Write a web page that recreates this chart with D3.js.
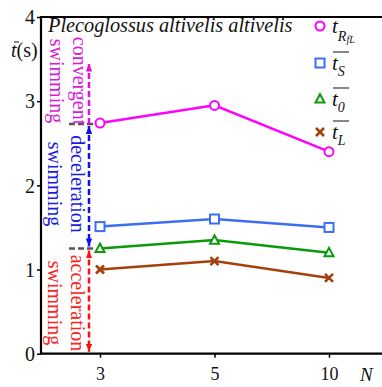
<!DOCTYPE html>
<html>
<head>
<meta charset="utf-8">
<script src="https://cdn.jsdelivr.net/npm/d3@7"></script>
<style>
  body { margin: 0; background: #fff; }
  svg { display: block; }
  svg text { font-family: 'Liberation Serif', 'Times New Roman', Times, 'DejaVu Serif', serif !important; }
</style>
</head>
<body>
<div id="chart"></div>
<script>
// data
const categories = ["3", "5", "10"];
const tRfL = [2.74, 2.95, 2.40];
const tS = [1.51, 1.60, 1.50];
const t0 = [1.25, 1.35, 1.20];
const tL = [1.00, 1.10, 0.90];
const yTicks = [0, 1, 2, 3, 4];
const levels = [2.73, 1.25]; // phase boundaries (gray dashes)
const phaseWords = [["convergent", "swimming"], ["deceleration", "swimming"], ["acceleration", "swimming"]];
const phaseRange = [[2.73, 3.47], [2.73, 1.25], [1.25, 0]];

const width = 382, height = 387;
const margin = {left: 41, top: 17, bottom: 33};

const svg = d3.select("#chart").append("svg")
    .attr("width", width)
    .attr("height", height);

const x = d3.scalePoint().domain(categories).range([100, 329]);
const y = d3.scaleLinear().domain([0, 4]).range([height - margin.bottom - 0.3, margin.top]);

// arrow heads
const defs = svg.append("defs");
const arrowColors = {mag: "#e010e0", blue: "#1010f0", red: "#ff1010"};
for (let k in arrowColors) {
    defs.append("marker")
        .attr("id", "ah-" + k)
        .attr("viewBox", "0 0 10 8")
        .attr("refX", 10).attr("refY", 4)
        .attr("markerWidth", 8).attr("markerHeight", 6.5)
        .attr("markerUnits", "userSpaceOnUse")
        .attr("orient", "auto-start-reverse")
        .append("path")
        .attr("d", "M0,0L10,4L0,8Z")
        .attr("fill", arrowColors[k]);
}

// axes
const yAxis = svg.append("g")
    .attr("transform", `translate(${margin.left},0)`)
    .call(d3.axisLeft(y).tickValues(yTicks).tickSize(4).tickFormat(d3.format("d")));
const xAxis = svg.append("g")
    .attr("transform", `translate(0,${y(0)})`)
    .call(d3.axisBottom(x).tickSize(4));
[yAxis, xAxis].forEach(g => {
    g.select(".domain").remove();
    g.selectAll(".tick line").attr("stroke", "#000").attr("stroke-width", 1.5);
    g.selectAll(".tick text").attr("fill", "#111");
});
yAxis.selectAll(".tick text").attr("font-size", 20).attr("x", -6).attr("dy", "0.34em");
xAxis.selectAll(".tick text").attr("font-size", 18).attr("dy", "1.05em");

svg.append("path")
    .attr("d", `M${width},${margin.top}H${margin.left}V${y(0)}H${width}`)
    .attr("fill", "none").attr("stroke", "#000").attr("stroke-width", 2.2);

// axis labels
const yl = svg.append("text").attr("x", 11).attr("y", 57).attr("font-size", 20).attr("fill", "#111");
yl.append("tspan").attr("font-style", "italic").text("t");
yl.append("tspan").text("(s)");
svg.append("line").attr("x1", 14).attr("x2", 19).attr("y1", 42).attr("y2", 42)
    .attr("stroke", "#111").attr("stroke-width", 1);
svg.append("text").attr("x", 360).attr("y", 381).attr("font-size", 19)
    .attr("font-style", "italic").attr("fill", "#111").text("N");

svg.append("text").attr("x", 48).attr("y", 32).attr("font-size", 20.3)
    .attr("font-style", "italic").attr("fill", "#111")
    .text("Plecoglossus altivelis altivelis");

// phase annotations
const ax = 89;
levels.forEach(v => {
    svg.append("line")
        .attr("x1", 69).attr("x2", x("3") - 6)
        .attr("y1", y(v)).attr("y2", y(v))
        .attr("stroke", "#555").attr("stroke-width", 2.5)
        .attr("stroke-dasharray", "6,3");
});
const phaseKeys = ["mag", "blue", "red"];
const phaseText = ["#d91ad9", "#1a1ae6", "#ff2020"];
phaseRange.forEach((r, i) => {
    const k = phaseKeys[i];
    const dir = r[1] > r[0] ? -1 : 1;
    svg.append("line")
        .attr("x1", ax).attr("x2", ax)
        .attr("y1", y(r[0]) + dir * (i === 0 ? 0 : 2))
        .attr("y2", y(r[1]) - dir * 2)
        .attr("stroke", arrowColors[k]).attr("stroke-width", 2.5)
        .attr("stroke-dasharray", "6,3")
        .attr("marker-start", i === 0 ? null : `url(#ah-${k})`)
        .attr("marker-end", `url(#ah-${k})`);
});
const wordCenters = [81, 184, 303];
phaseWords.forEach((w, i) => {
    [[71, w[0]], [48, w[1]]].forEach(([bx, s]) => {
        svg.append("text")
            .attr("transform", `translate(${bx + (i === 0 ? 2 : 0)},${wordCenters[i]}) rotate(90)`)
            .attr("text-anchor", "middle")
            .attr("font-size", 20)
            .attr("fill", phaseText[i])
            .text(s);
    });
});

// series
const series = [
    {name: "RfL", values: tRfL, color: "#ff00ff", shape: "circle"},
    {name: "S", values: tS, color: "#3d6ef2", shape: "square"},
    {name: "0", values: t0, color: "#0a9a0a", shape: "triangle"},
    {name: "L", values: tL, color: "#a3400c", shape: "cross"}
];

function drawMarker(g, shape, color) {
    if (shape === "circle") {
        g.append("circle").attr("r", 4.5).attr("fill", "#fff").attr("stroke", color).attr("stroke-width", 2);
    } else if (shape === "square") {
        g.append("rect").attr("x", -4.5).attr("y", -4.5).attr("width", 9).attr("height", 9)
            .attr("fill", "#fff").attr("stroke", color).attr("stroke-width", 2);
    } else if (shape === "triangle") {
        g.append("path").attr("d", "M0,-4.8L4.5,3.6L-4.5,3.6Z")
            .attr("fill", "#fff").attr("stroke", color).attr("stroke-width", 2);
    } else {
        g.append("path").attr("d", "M-4,-4L4,4M-4,4L4,-4")
            .attr("stroke", color).attr("stroke-width", 2.6);
    }
}

const line = d3.line().x((d, i) => x(categories[i])).y(d => y(d));
series.forEach(s => {
    svg.append("path")
        .attr("d", line(s.values))
        .attr("fill", "none").attr("stroke", s.color).attr("stroke-width", 2.5);
    s.values.forEach((v, i) => {
        drawMarker(svg.append("g").attr("transform", `translate(${x(categories[i])},${y(v)})`), s.shape, s.color);
    });
});

// legend
const legendY = [26, 63, 99, 132];
series.forEach((s, i) => {
    const g = svg.append("g").attr("transform", `translate(320,${legendY[i]})`);
    drawMarker(g, s.shape, s.color);
    const t = g.append("text").attr("x", 12).attr("y", 7).attr("font-size", 21)
        .attr("font-style", "italic").attr("fill", "#111");
    t.append("tspan").text("t");
    if (i === 0) {
        t.append("tspan").attr("dy", 8).attr("font-size", 14).text("R");
        t.append("tspan").attr("dy", 2).attr("font-size", 10).text("fL");
    } else {
        t.append("tspan").attr("dy", 6).attr("font-size", 14).text(s.name);
        g.append("line").attr("x1", 13).attr("x2", 29).attr("y1", -11).attr("y2", -11)
            .attr("stroke", "#111").attr("stroke-width", 1);
    }
});
</script>
</body>
</html>
